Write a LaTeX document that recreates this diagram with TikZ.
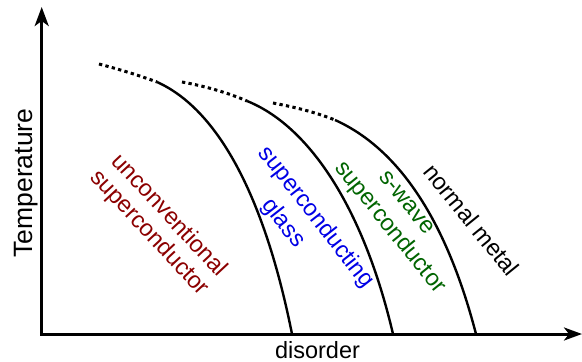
\documentclass[tikz,border=0pt]{standalone}
\usepackage{fontspec}
\setmainfont{Liberation Sans}
\usetikzlibrary{arrows.meta}
\definecolor{ucred}{RGB}{139,0,0}
\definecolor{scblue}{RGB}{0,0,230}
\definecolor{swgreen}{RGB}{0,100,0}
\begin{document}
\begin{tikzpicture}[x=1pt,y=-1pt,
  axis/.style={line width=3pt},
  phase/.style={line width=2.4pt},
  dots/.style={line width=3pt, dash pattern=on 3.3pt off 3.3pt},
  lbl/.style={font=\fontsize{23.5}{30}\selectfont, inner sep=0pt}]
\useasboundingbox (0,0) rectangle (582,362);
% axes
\coordinate (O) at (41.7,334);
\coordinate (Y) at (41.7,7);
\coordinate (X) at (582,334);
\draw[axis, {Stealth[length=19pt,width=14pt,inset=5pt]}-{Stealth[length=18pt,width=13pt,inset=5pt]}] (Y) -- (O) -- (X);
% curve 1
\draw[dots] (99,64) .. controls (118,69) and (138,75) .. (157,82);
\draw[phase] (157,82) .. controls (217,109) and (264,194) .. (292,334);
% curve 2
\draw[dots] (182,82) .. controls (204,86) and (226,92) .. (247,101);
\draw[phase] (247,101) .. controls (307,125) and (362.5,204) .. (393,334);
% curve 3
\draw[dots] (273,103) .. controls (294,107) and (315,112) .. (335,120);
\draw[phase] (335,120) .. controls (395,147) and (444.8,214) .. (476,334);
% labels
\node[lbl, text=ucred, rotate=-47] (u1) at (170.4,214.2) {unconventional};
\node[lbl, text=ucred, rotate=-47] (u2) at (149,233.3) {superconductor};
\node[lbl, text=scblue, rotate=-52] (g1) at (315.8,217.5) {superconducting};
\node[lbl, text=scblue, rotate=-52] (g2) at (283.3,223.3) {glass};
\node[lbl, text=swgreen, rotate=-51] (s1) at (406.7,202.5) {s-wave};
\node[lbl, text=swgreen, rotate=-51] (s2) at (390,227.5) {superconductor};
\node[lbl, rotate=-51] (n) at (471.7,220) {normal metal};
\node[lbl, font=\fontsize{26.5}{30}\selectfont, rotate=90, anchor=base] (T) at (32,183) {Temperature};
\node[lbl, anchor=base] (d) at (317.5,358) {disorder};
\end{tikzpicture}
\end{document}
